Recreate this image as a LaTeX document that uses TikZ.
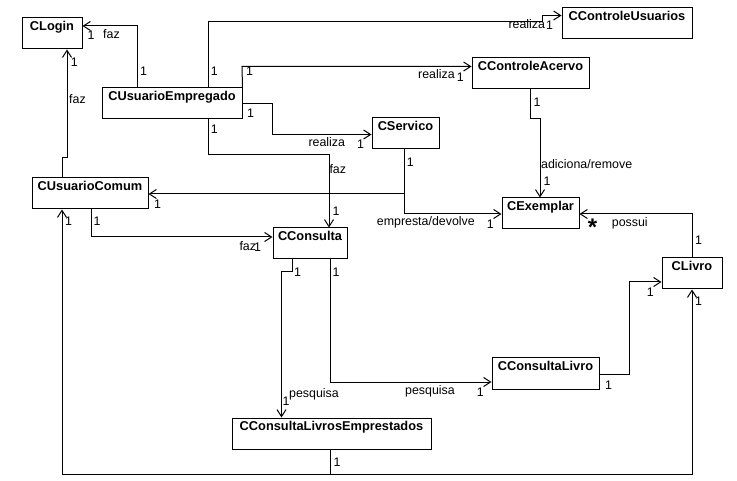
\documentclass[tikz,border=0pt]{standalone}
\usepackage{fontspec}
\setmainfont{Liberation Sans}
\usetikzlibrary{arrows.meta}
\begin{document}
\begin{tikzpicture}[x=1pt,y=-1pt,
  cls/.style={draw, line width=1pt, inner sep=0pt, minimum width=#1,
    minimum height=31pt, text height=12.8pt, text depth=18.2pt,
    font=\fontsize{12.8}{15}\selectfont\bfseries},
  dep/.style={line width=1pt, -{Straight Barb[length=7pt,width=9pt]}},
  lbl/.style={inner sep=0pt, anchor=base west, font=\fontsize{12.4}{14}\selectfont}]
\fill[white] (0,0) rectangle (737,481);
\useasboundingbox (0,0) rectangle (737,481);

% classes
\node[cls=60pt]  (login)  at (52,33.5)    {CLogin};
\node[cls=140pt] (uemp)   at (172,103.5)  {CUsuarioEmpregado};
\node[cls=130pt] (cusu)   at (627,23.5)   {CControleUsuarios};
\node[cls=117pt] (cacv)   at (530.5,73.5) {CControleAcervo};
\node[cls=67pt]  (serv)   at (405.5,133.5){CServico};
\node[cls=116pt] (ucom)   at (90,193.5)   {CUsuarioComum};
\node[cls=74pt]  (cons)   at (310,243.5)  {CConsulta};
\node[cls=77pt]  (exem)   at (540.5,213.5){CExemplar};
\node[cls=60pt]  (livro)  at (692,273.5)  {CLivro};
\node[cls=107pt] (clivro) at (545.5,373.5){CConsultaLivro};
\node[cls=199pt] (clemp)  at (331.5,433.5){CConsultaLivrosEmprestados};

% associations
\draw[dep] (uemp.north -| 137,0) -- (137,26) -- (login.east |- 0,26);
\draw[dep] (ucom.north -| 62,0) -- (62,158) -- (67,158) -- (login.south -| 67,0);
\draw[dep] (uemp.north -| 208,0) -- (208,21.5) -- (542,21.5) -- (542,15.5) -- (cusu.west |- 0,15.5);
\draw[dep] (uemp.north east) -- (242,66.5) -- (cacv.west |- 0,66.5);
\draw[dep] (uemp.east |- 0,104) -- (272.5,104) -- (272.5,134.5) -- (serv.west |- 0,134.5);
\draw[dep] (uemp.south -| 208,0) -- (208,155) -- (329,155) -- (cons.north -| 329,0);
\draw[dep] (serv.south -| 404,0) -- (404,194) -- (ucom.east |- 0,194);
\draw[dep] (serv.south -| 404,0) -- (404,214) -- (exem.west |- 0,214);
\draw[dep] (cacv.south -| 530.5,0) -- (530.5,118.5) -- (540,118.5) -- (exem.north -| 540,0);
\draw[dep] (livro.north) -- (692,214) -- (exem.east |- 0,214);
\draw[dep] (ucom.south -| 91,0) -- (91,237) -- (cons.west |- 0,237);
\draw[dep] (cons.south -| 292,0) -- (292,272) -- (281.5,272) -- (clemp.north -| 281.5,0);
\draw[dep] (cons.south -| 330,0) -- (330,382) -- (clivro.west |- 0,382);
\draw[dep] (clivro.east |- 0,374) -- (629,374) -- (629,282) -- (livro.west |- 0,282);
\draw[dep] (clemp.south -| 330,0) -- (330,474) -- (62,474) -- (ucom.south -| 62,0);
\draw[dep] (clemp.south -| 330,0) -- (330,474) -- (692,474) -- (livro.south);

% role names and multiplicities
\node[lbl] (m1)  at (87.3,39.3)  {1};
\node[lbl] (t1)  at (103,39)     {faz};
\node[lbl] (m2)  at (140,76)     {1};
\node[lbl] (m3)  at (210.7,76)   {1};
\node[lbl] (m4)  at (246,76)     {1};
\node[lbl] (m5)  at (70.7,66.7)  {1};
\node[lbl] (t2)  at (69,104)     {faz};
\node[lbl] (m6)  at (210.7,134)  {1};
\node[lbl] (m7)  at (247,118)    {1};
\node[lbl] (t3)  at (418,79)     {realiza};
\node[lbl] (m8)  at (456.7,81.7) {1};
\node[lbl] (t4)  at (308.3,146.7){realiza};
\node[lbl] (m9)  at (357,149)    {1};
\node[lbl] (t5)  at (508.3,28.3) {realiza};
\node[lbl] (m10) at (546,29.3)   {1};
\node[lbl] (m11) at (533.3,106.7){1};
\node[lbl] (t6)  at (329.3,173.3){faz};
\node[lbl] (m12) at (154,208.3)  {1};
\node[lbl] (m13) at (332.3,216)  {1};
\node[lbl] (m14) at (65,226)     {1};
\node[lbl] (m15) at (93.3,226)   {1};
\node[lbl] (t7)  at (239.3,251)  {faz};
\node[lbl] (m16) at (254,251.7)  {1};
\node[lbl] (m17) at (406.7,166.7){1};
\node[lbl] (t8)  at (541,168.3)  {adiciona/remove};
\node[lbl] (m18) at (543.3,185.7){1};
\node[lbl] (t9)  at (376.7,226)  {empresta/devolve};
\node[lbl] (m19) at (486.7,228.3){1};
\node[anchor=base, inner sep=0pt, font=\fontsize{24}{24}\selectfont\bfseries] (many) at (592.5,236) {*};
\node[lbl] (t10) at (611.7,226.7){possui};
\node[lbl] (m20) at (695,245)    {1};
\node[lbl] (m21) at (294,276.7)  {1};
\node[lbl] (m22) at (332.3,276.7){1};
\node[lbl] (t11) at (289,397)    {pesquisa};
\node[lbl] (m23) at (282.5,406)  {1};
\node[lbl] (t12) at (405,394)    {pesquisa};
\node[lbl] (m24) at (476.7,396.7){1};
\node[lbl] (m25) at (333.3,466.7){1};
\node[lbl] (m26) at (646.7,296.7){1};
\node[lbl] (m27) at (695,306)    {1};
\node[lbl] (m28) at (605,389)    {1};
\end{tikzpicture}
\end{document}
